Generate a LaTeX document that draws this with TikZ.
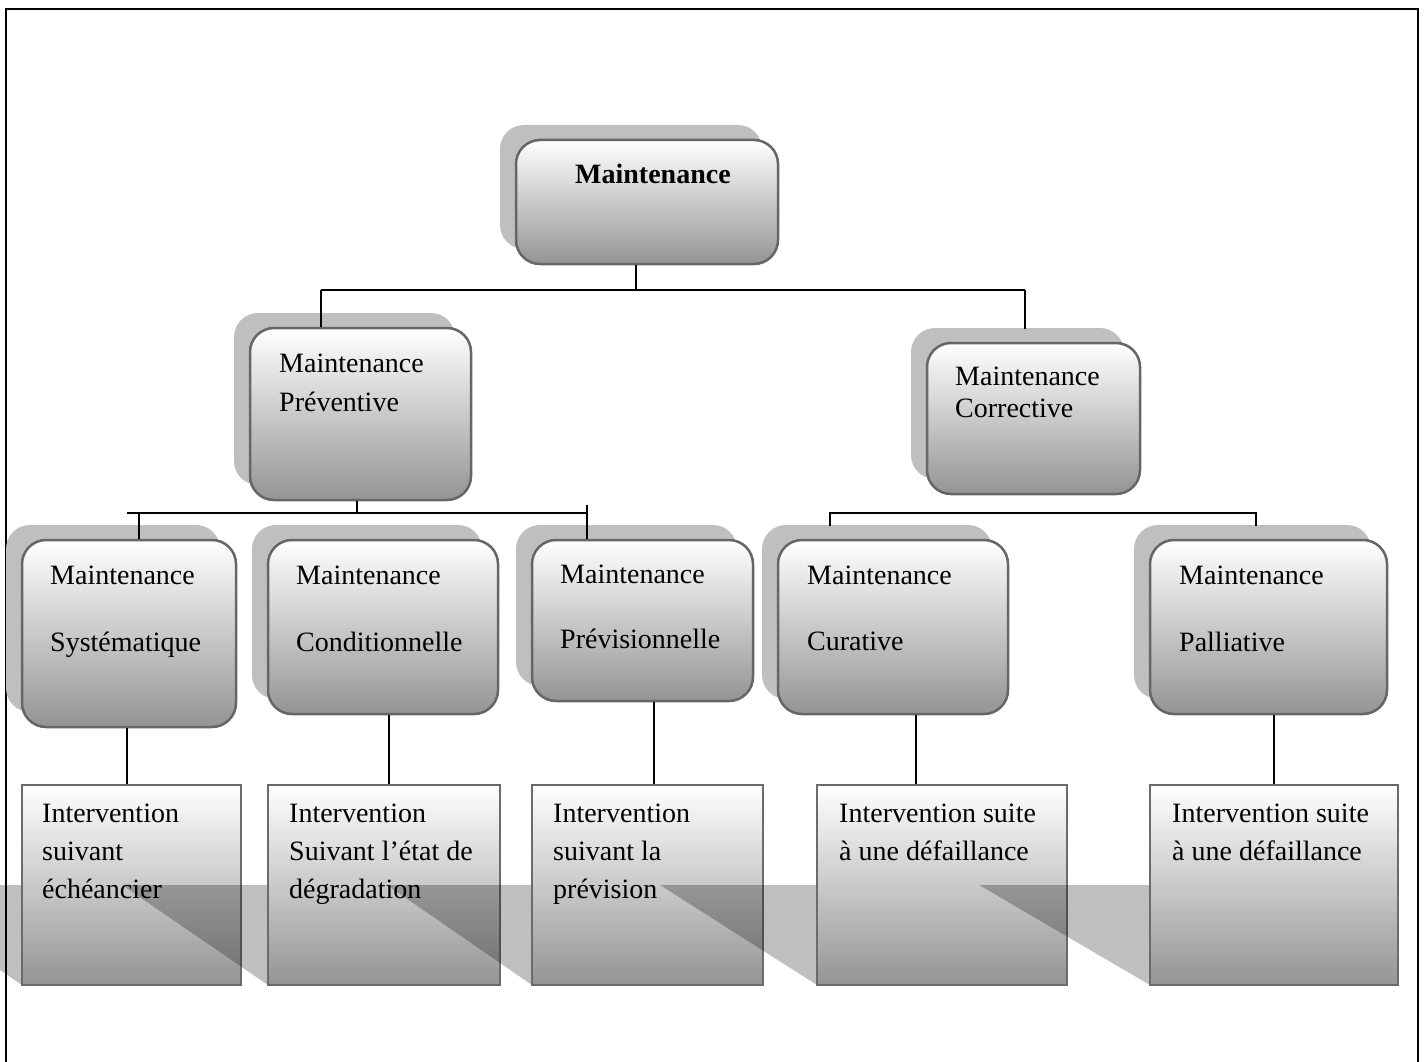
\documentclass[tikz,border=0pt]{standalone}
\usepackage{fontspec}
\setmainfont{Liberation Serif}
\usetikzlibrary{shadows,calc}

\begin{document}
\begin{tikzpicture}[x=1pt,y=-1pt,
  txt/.style={anchor=base west, inner sep=0pt, font=\fontsize{28}{34}\selectfont},
  rbox/.style={draw=black!60, line width=2.5pt, rounded corners=24pt, inner sep=0pt,
    top color=white, middle color=black!12, bottom color=black!42,
    general shadow={shadow xshift=-16pt, shadow yshift=15pt, fill=black!25}},
  sbox/.style={draw=black!58, line width=2.5pt, inner sep=0pt,
    top color=white, middle color=black!12, bottom color=black!42},
  cast/.style={fill=black, fill opacity=0.25},
  wire/.style={line width=1.8pt}]

\useasboundingbox (0,0) rectangle (1427,1062);
\clip (0,0) rectangle (1427,1062);

% page frame, open at the bottom
\draw[line width=2.5pt] (6,1100) -- (6,9) -- (1418,9) -- (1418,1100);

% level 1
\node[rbox, minimum width=262pt, minimum height=124pt] (top) at (647,202) {};
\node[txt, font=\fontsize{28}{34}\selectfont\bfseries] (ttop) at (575,183) {Maintenance};

% level 2
\node[rbox, minimum width=221pt, minimum height=172pt] (prev) at (360.5,414) {};
\node[txt] (tprev1) at (279,372) {Maintenance};
\node[txt] (tprev2) at (279,411) {Préventive};

\node[rbox, minimum width=213pt, minimum height=151pt] (corr) at (1033.5,418.5) {};
\node[txt] (tcorr1) at (955,385) {Maintenance};
\node[txt] (tcorr2) at (955,417) {Corrective};

% level 3
\node[rbox, minimum width=214pt, minimum height=187pt] (sys) at (129,633.5) {};
\node[txt] (tsys1) at (50,584) {Maintenance};
\node[txt] (tsys2) at (50,651) {Systématique};

\node[rbox, minimum width=230pt, minimum height=174pt] (cond) at (383,627) {};
\node[txt] (tcond1) at (296,584) {Maintenance};
\node[txt] (tcond2) at (296,651) {Conditionnelle};

\node[rbox, minimum width=221pt, minimum height=161pt] (previs) at (642.5,620.5) {};
\node[txt] (tprevis1) at (560,583) {Maintenance};
\node[txt] (tprevis2) at (560,648) {Prévisionnelle};

\node[rbox, minimum width=230pt, minimum height=174pt] (cur) at (893,627) {};
\node[txt] (tcur1) at (807,584) {Maintenance};
\node[txt] (tcur2) at (807,650) {Curative};

\node[rbox, minimum width=237pt, minimum height=174pt] (pal) at (1268.5,627) {};
\node[txt] (tpal1) at (1179,584) {Maintenance};
\node[txt] (tpal2) at (1179,651) {Palliative};

% connectors between the upper levels
\coordinate (t1) at (636,290);
\coordinate (hL) at (321,290);
\coordinate (hR) at (1025,290);
\draw[wire] (t1 |- top.south) -- (t1);
\draw[wire] (hL) -- (hR);
\draw[wire] (hL) -- (hL |- prev.north);
\draw[wire] (hR) -- ($(hR |- corr.north)+(0,-13)$);

\coordinate (pL) at (127,513);
\coordinate (pR) at (587,513);
\coordinate (pm) at (357,513);
\coordinate (ps) at (139,513);
\draw[wire] (pm |- prev.south) -- (pm);
\draw[wire] (pL) -- (pR);
\draw[wire] (ps) -- (ps |- sys.north);
\draw[wire] ($(pR)+(0,-8)$) -- (pR |- previs.north);

\coordinate (cL) at (830,513);
\coordinate (cR) at (1256,513);
\draw[wire] ($(cL)+(0,13)$) -- (cL) -- (cR) -- ($(cR)+(0,13)$);

% level 4, each box with a slanted cast shadow
\fill[cast] (-124,885) -- (95,885) -- (241,985) -- (22,985) -- cycle;
\node[sbox, minimum width=219pt, minimum height=200pt] (r1) at (131.5,885) {};
\node[txt] (tr1a) at (42,822) {Intervention};
\node[txt] (tr1b) at (42,860) {suivant};
\node[txt] (tr1c) at (42,898) {échéancier};

\fill[cast] (122,885) -- (354,885) -- (500,985) -- (268,985) -- cycle;
\node[sbox, minimum width=232pt, minimum height=200pt] (r2) at (384,885) {};
\node[txt] (tr2a) at (289,822) {Intervention};
\node[txt] (tr2b) at (289,860) {Suivant l’état de};
\node[txt] (tr2c) at (289,898) {dégradation};

\fill[cast] (387,885) -- (618,885) -- (763,985) -- (532,985) -- cycle;
\node[sbox, minimum width=231pt, minimum height=200pt] (r3) at (647.5,885) {};
\node[txt] (tr3a) at (553,822) {Intervention};
\node[txt] (tr3b) at (553,860) {suivant la};
\node[txt] (tr3c) at (553,898) {prévision};

\fill[cast] (660,885) -- (910,885) -- (1067,985) -- (817,985) -- cycle;
\node[sbox, minimum width=250pt, minimum height=200pt] (r4) at (942,885) {};
\node[txt] (tr4a) at (839,822) {Intervention suite};
\node[txt] (tr4b) at (839,860) {à une défaillance};

\fill[cast] (979,885) -- (1227,885) -- (1398,985) -- (1150,985) -- cycle;
\node[sbox, minimum width=248pt, minimum height=200pt] (r5) at (1274,885) {};
\node[txt] (tr5a) at (1172,822) {Intervention suite};
\node[txt] (tr5b) at (1172,860) {à une défaillance};

% connectors from level 3 to level 4
\coordinate (v1) at (127,750);
\coordinate (v2) at (389,750);
\coordinate (v3) at (654,750);
\coordinate (v4) at (916,750);
\coordinate (v5) at (1274,750);
\draw[wire] (v1 |- sys.south) -- (v1 |- r1.north);
\draw[wire] (v2 |- cond.south) -- (v2 |- r2.north);
\draw[wire] (v3 |- previs.south) -- (v3 |- r3.north);
\draw[wire] (v4 |- cur.south) -- (v4 |- r4.north);
\draw[wire] (v5 |- pal.south) -- (v5 |- r5.north);
\end{tikzpicture}
\end{document}
